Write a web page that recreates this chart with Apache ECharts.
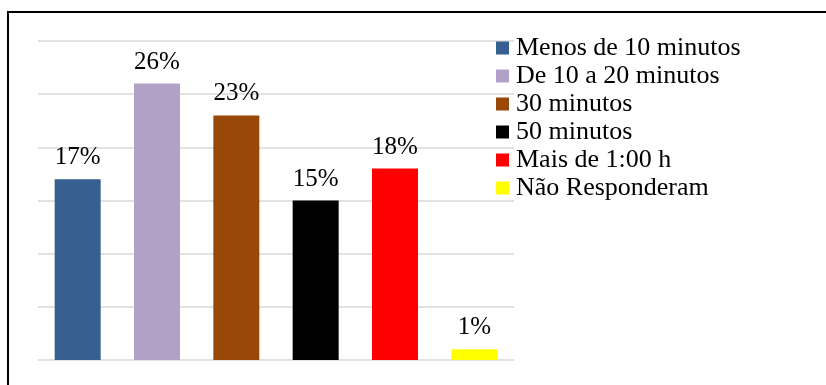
<!DOCTYPE html>
<html>
<head>
<meta charset="utf-8">
<script src="https://cdn.jsdelivr.net/npm/echarts@6/dist/echarts.min.js"></script>
<style>
  html, body { margin: 0; padding: 0; background: #fff; }
  #chart { width: 826px; height: 385px; }
</style>
</head>
<body>
<div id="chart"></div>
<script>
// Tempo de deslocamento (percentual de respostas)
const categories = ['Menos de 10 minutos', 'De 10 a 20 minutos', '30 minutos', '50 minutos', 'Mais de 1:00 h', 'Não Responderam'];
const values = [17, 26, 23, 15, 18, 1];
const colors = ['#35608f', '#b2a1c7', '#984807', '#000000', '#ff0000', '#ffff00'];
const yTicks = [0, 5, 10, 15, 20, 25, 30];

const font = '"Liberation Serif", "Times New Roman", serif';

// One series per category so each gets its own legend entry; they share a slot.
const series = categories.map((name, i) => ({
  name: name,
  type: 'bar',
  barWidth: 46,
  barGap: '-100%',
  itemStyle: { color: colors[i] },
  label: {
    show: true,
    position: 'top',
    distance: 9,
    formatter: p => p.value + '%',
    color: '#000',
    fontFamily: font,
    fontSize: 25
  },
  data: categories.map((c, j) => (j === i ? values[i] : '-'))
}));

const chart = echarts.init(document.getElementById('chart'), null, { renderer: 'canvas' });
chart.setOption({
  animation: false,
  backgroundColor: '#fff',
  grid: { left: 38, right: 312, top: 41, bottom: 25, containLabel: false },
  xAxis: {
    type: 'category',
    data: categories,
    axisLine: { show: false },
    axisTick: { show: false },
    axisLabel: { show: false }
  },
  yAxis: {
    type: 'value',
    min: yTicks[0],
    max: yTicks[yTicks.length - 1],
    interval: yTicks[1] - yTicks[0],
    axisLabel: { show: false },
    axisLine: { show: false },
    axisTick: { show: false },
    splitLine: { lineStyle: { color: '#d9d9d9', width: 1.5 } }
  },
  legend: {
    orient: 'vertical',
    left: 496,
    top: 35,
    padding: 0,
    itemWidth: 13,
    itemHeight: 13,
    itemGap: 2,
    icon: 'rect',
    data: categories,
    textStyle: { color: '#000', fontFamily: font, fontSize: 26, padding: [0, 0, 0, 2] }
  },
  graphic: [
    { type: 'line', shape: { x1: 7, y1: 12, x2: 826, y2: 12 }, style: { stroke: '#000', lineWidth: 2 } },
    { type: 'line', shape: { x1: 8, y1: 11, x2: 8, y2: 385 }, style: { stroke: '#000', lineWidth: 2 } }
  ],
  series: series
});
</script>
</body>
</html>
